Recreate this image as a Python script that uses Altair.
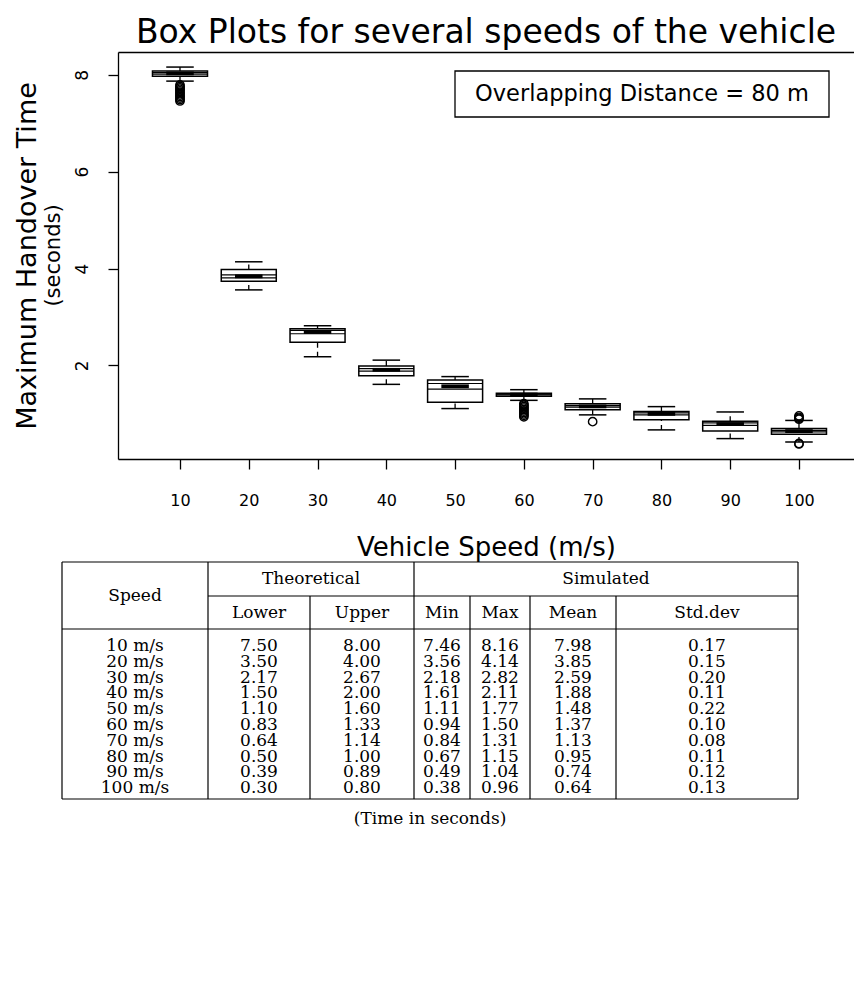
import altair as alt
import pandas as pd

# ---------------- box plot summaries (seconds) for each vehicle speed ----------------
speeds = [10, 20, 30, 40, 50, 60, 70, 80, 90, 100]
whisker_low = [7.87, 3.56, 2.18, 1.61, 1.11, 1.28, 0.98, 0.67, 0.49, 0.42]
quartile_1 = [7.97, 3.74, 2.48, 1.79, 1.24, 1.365, 1.085, 0.88, 0.645, 0.58]
medians = [8.03, 3.84, 2.69, 1.91, 1.57, 1.40, 1.155, 1.00, 0.79, 0.645]
quartile_3 = [8.08, 3.98, 2.76, 1.99, 1.70, 1.425, 1.21, 1.05, 0.85, 0.70]
whisker_high = [8.16, 4.14, 2.82, 2.11, 1.77, 1.50, 1.31, 1.15, 1.04, 0.865]
runs_per_speed = 160

outlier_speed = [10] * 12 + [60] * 10 + [70] + [100] * 6
outlier_value = [7.46, 7.49, 7.52, 7.55, 7.58, 7.61, 7.64, 7.67, 7.70, 7.73, 7.76, 7.79,
                 0.94, 0.97, 1.00, 1.03, 1.06, 1.09, 1.12, 1.15, 1.18, 1.21,
                 0.84,
                 0.38, 0.39, 0.89, 0.91, 0.93, 0.96]

# ---------------- summary table ----------------
table_speed = ["10 m/s", "20 m/s", "30 m/s", "40 m/s", "50 m/s",
               "60 m/s", "70 m/s", "80 m/s", "90 m/s", "100 m/s"]
theory_lower = [7.50, 3.50, 2.17, 1.50, 1.10, 0.83, 0.64, 0.50, 0.39, 0.30]
theory_upper = [8.00, 4.00, 2.67, 2.00, 1.60, 1.33, 1.14, 1.00, 0.89, 0.80]
sim_min = [7.46, 3.56, 2.18, 1.61, 1.11, 0.94, 0.84, 0.67, 0.49, 0.38]
sim_max = [8.16, 4.14, 2.82, 2.11, 1.77, 1.50, 1.31, 1.15, 1.04, 0.96]
sim_mean = [7.98, 3.85, 2.59, 1.88, 1.48, 1.37, 1.13, 0.95, 0.74, 0.64]
sim_std = [0.17, 0.15, 0.20, 0.11, 0.22, 0.10, 0.08, 0.11, 0.12, 0.13]

# ---------------- layout ----------------
W, H = 736, 407
BOX_HALF = 4.0          # box half-width in speed units (boxwex 0.8)
CAP_HALF = 2.0          # staple / notch half-width
X_DOMAIN = [0.986, 108.0]
Y_DOMAIN = [0.069, 8.471]

# table geometry in its own units (column edges, rule lines, text rows)
col_edges = [0, 146, 248, 352, 408, 468, 554, 736]
head_mid, head_bottom, table_bottom = 34, 67, 237
first_row, row_pitch = 84, 15.8
TABLE_X_RANGE = [-56, 680]
TABLE_Y_RANGE = [510, 770]
SANS = "DejaVu Sans"
SERIF = "DejaVu Serif"
LINE = 1.5

# ---------------- box plot data frames ----------------
box = pd.DataFrame({
    "speed": speeds, "lo": whisker_low, "q1": quartile_1, "med": medians,
    "q3": quartile_3, "hi": whisker_high,
})
notch = 1.58 * (box["q3"] - box["q1"]) / runs_per_speed ** 0.5
box["nlo"] = box["med"] - notch
box["nhi"] = box["med"] + notch
box["left"] = box["speed"] - BOX_HALF
box["right"] = box["speed"] + BOX_HALF
box["capl"] = box["speed"] - CAP_HALF
box["capr"] = box["speed"] + CAP_HALF
out = pd.DataFrame({"speed": outlier_speed, "value": outlier_value})

xs = alt.Scale(domain=X_DOMAIN, nice=False, zero=False)
ys = alt.Scale(domain=Y_DOMAIN, nice=False, zero=False)
base = alt.Chart(box)

boxes = base.mark_rect(fill="white", stroke="black", strokeWidth=LINE).encode(
    x=alt.X("left:Q", scale=xs, title="Vehicle Speed (m/s)",
            axis=alt.Axis(values=speeds, tickSize=10, labelPadding=23,
                          labelFontSize=16, titleFontSize=26, titlePadding=26)),
    x2="right:Q",
    y=alt.Y("q1:Q", scale=ys, title="Maximum Handover Time",
            axis=alt.Axis(values=[2, 4, 6, 8], tickSize=10, labelPadding=21,
                          labelAngle=270, labelAlign="center",
                          labelBaseline="alphabetic", labelFontSize=17,
                          titleFontSize=27, titlePadding=32)),
    y2="q3:Q",
)

upper_whisker = base.mark_rule(strokeDash=[5, 4], strokeWidth=1.3, color="black").encode(
    x=alt.X("speed:Q", scale=xs,
            axis=alt.Axis(orient="top", labels=False, ticks=False, title=None)),
    y=alt.Y("q3:Q", scale=ys, axis=None), y2="hi:Q")
lower_whisker = base.mark_rule(strokeDash=[5, 4], strokeWidth=1.3, color="black").encode(
    x=alt.X("speed:Q", scale=xs, axis=None),
    y=alt.Y("lo:Q", scale=ys, axis=None), y2="q1:Q")
caps_hi = base.mark_rule(strokeWidth=LINE, color="black").encode(
    x=alt.X("capl:Q", scale=xs, axis=None), x2="capr:Q",
    y=alt.Y("hi:Q", scale=ys, axis=None))
caps_lo = base.mark_rule(strokeWidth=LINE, color="black").encode(
    x=alt.X("capl:Q", scale=xs, axis=None), x2="capr:Q",
    y=alt.Y("lo:Q", scale=ys, axis=None))
notch_lo = base.mark_rule(strokeWidth=1.2, color="black").encode(
    x=alt.X("left:Q", scale=xs, axis=None), x2="right:Q",
    y=alt.Y("nlo:Q", scale=ys, axis=None))
notch_hi = base.mark_rule(strokeWidth=1.2, color="black").encode(
    x=alt.X("left:Q", scale=xs, axis=None), x2="right:Q",
    y=alt.Y("nhi:Q", scale=ys, axis=None))
median_bar = base.mark_rule(strokeWidth=3.8, color="black").encode(
    x=alt.X("capl:Q", scale=xs, axis=None), x2="capr:Q",
    y=alt.Y("med:Q", scale=ys, axis=None))
outlier_pts = alt.Chart(out).mark_point(
    shape="circle", filled=False, size=70, stroke="black", strokeWidth=1.4, opacity=1
).encode(x=alt.X("speed:Q", scale=xs, axis=None),
         y=alt.Y("value:Q", scale=ys, axis=None))

box_layer = alt.layer(
    upper_whisker, lower_whisker, caps_hi, caps_lo, boxes,
    notch_lo, notch_hi, median_bar, outlier_pts
).resolve_axis(x="independent", y="independent")

# ---------------- annotations ----------------
note = pd.DataFrame({"t": ["(seconds)"]})
seconds_label = alt.Chart(note).mark_text(
    font=SANS, fontSize=21, angle=270, align="center", baseline="middle", color="black"
).encode(text="t:N", x=alt.value(-64), y=alt.value(H / 2))

legend_df = pd.DataFrame({"t": ["Overlapping Distance = 80 m"]})
legend_box = alt.Chart(legend_df).mark_rect(fill="white", stroke="black", strokeWidth=1.3).encode(
    x=alt.value(337), x2=alt.value(711), y=alt.value(19), y2=alt.value(65))
legend_text = alt.Chart(legend_df).mark_text(
    font=SANS, fontSize=22.5, align="center", baseline="middle", color="black"
).encode(text="t:N", x=alt.value(524), y=alt.value(42))

# ---------------- table ----------------
col_center = [(col_edges[i] + col_edges[i + 1]) / 2 for i in range(len(col_edges) - 1)]

cells = []
columns = [table_speed,
           [f"{v:.2f}" for v in theory_lower], [f"{v:.2f}" for v in theory_upper],
           [f"{v:.2f}" for v in sim_min], [f"{v:.2f}" for v in sim_max],
           [f"{v:.2f}" for v in sim_mean], [f"{v:.2f}" for v in sim_std]]
for ci, col in enumerate(columns):
    for ri, txt in enumerate(col):
        cells.append({"t": txt, "x": col_center[ci], "y": first_row + row_pitch * ri})
sub_heads = ["Lower", "Upper", "Min", "Max", "Mean", "Std.dev"]
for ci, txt in enumerate(sub_heads, start=1):
    cells.append({"t": txt, "x": col_center[ci], "y": (head_mid + head_bottom) / 2})
cells.append({"t": "Speed", "x": col_center[0], "y": head_bottom / 2})
cells.append({"t": "Theoretical", "x": (col_edges[1] + col_edges[3]) / 2, "y": head_mid / 2})
cells.append({"t": "Simulated", "x": (col_edges[3] + col_edges[7]) / 2, "y": head_mid / 2})
cells.append({"t": "(Time in seconds)", "x": (col_edges[0] + col_edges[7]) / 2, "y": table_bottom + 20})
cells = pd.DataFrame(cells)

segs = [
    (col_edges[0], col_edges[7], 0, 0),
    (col_edges[1], col_edges[7], head_mid, head_mid),
    (col_edges[0], col_edges[7], head_bottom, head_bottom),
    (col_edges[0], col_edges[7], table_bottom, table_bottom),
]
for e in (col_edges[0], col_edges[1], col_edges[3], col_edges[7]):
    segs.append((e, e, 0, table_bottom))
for e in (col_edges[2], col_edges[4], col_edges[5], col_edges[6]):
    segs.append((e, e, head_mid, table_bottom))
segs = pd.DataFrame(segs, columns=["x", "x2", "y", "y2"])

txs = alt.Scale(domain=[0, 736], range=TABLE_X_RANGE, nice=False, zero=False)
tys = alt.Scale(domain=[0, 260], range=TABLE_Y_RANGE, nice=False, zero=False)
table_lines = alt.Chart(segs).mark_rule(color="black", strokeWidth=1.2).encode(
    x=alt.X("x:Q", scale=txs, axis=None), x2="x2:Q",
    y=alt.Y("y:Q", scale=tys, axis=None), y2="y2:Q")
table_text = alt.Chart(cells).mark_text(
    font=SERIF, fontSize=17, align="center", baseline="middle", color="black"
).encode(text="t:N",
         x=alt.X("x:Q", scale=txs, axis=None),
         y=alt.Y("y:Q", scale=tys, axis=None))
table_layer = alt.layer(table_lines, table_text)

chart = alt.layer(
    box_layer, table_layer, seconds_label, legend_box, legend_text
).resolve_scale(x="independent", y="independent").properties(
    width=W, height=H,
    padding={"left": 13, "top": 17, "right": 0, "bottom": 5},
    title=alt.TitleParams("Box Plots for several speeds of the vehicle", font=SANS,
                          fontSize=33, fontWeight="normal", color="black",
                          anchor="middle", offset=2),
).configure_view(stroke=None).configure_axis(
    labelFont=SANS, titleFont=SANS, grid=False, domainColor="black", tickColor="black",
    labelColor="black", titleColor="black", titleFontWeight="normal",
    domainWidth=1.3, tickWidth=1.3,
)

chart.save("out.html", embed_options={"renderer": "svg", "actions": False})
